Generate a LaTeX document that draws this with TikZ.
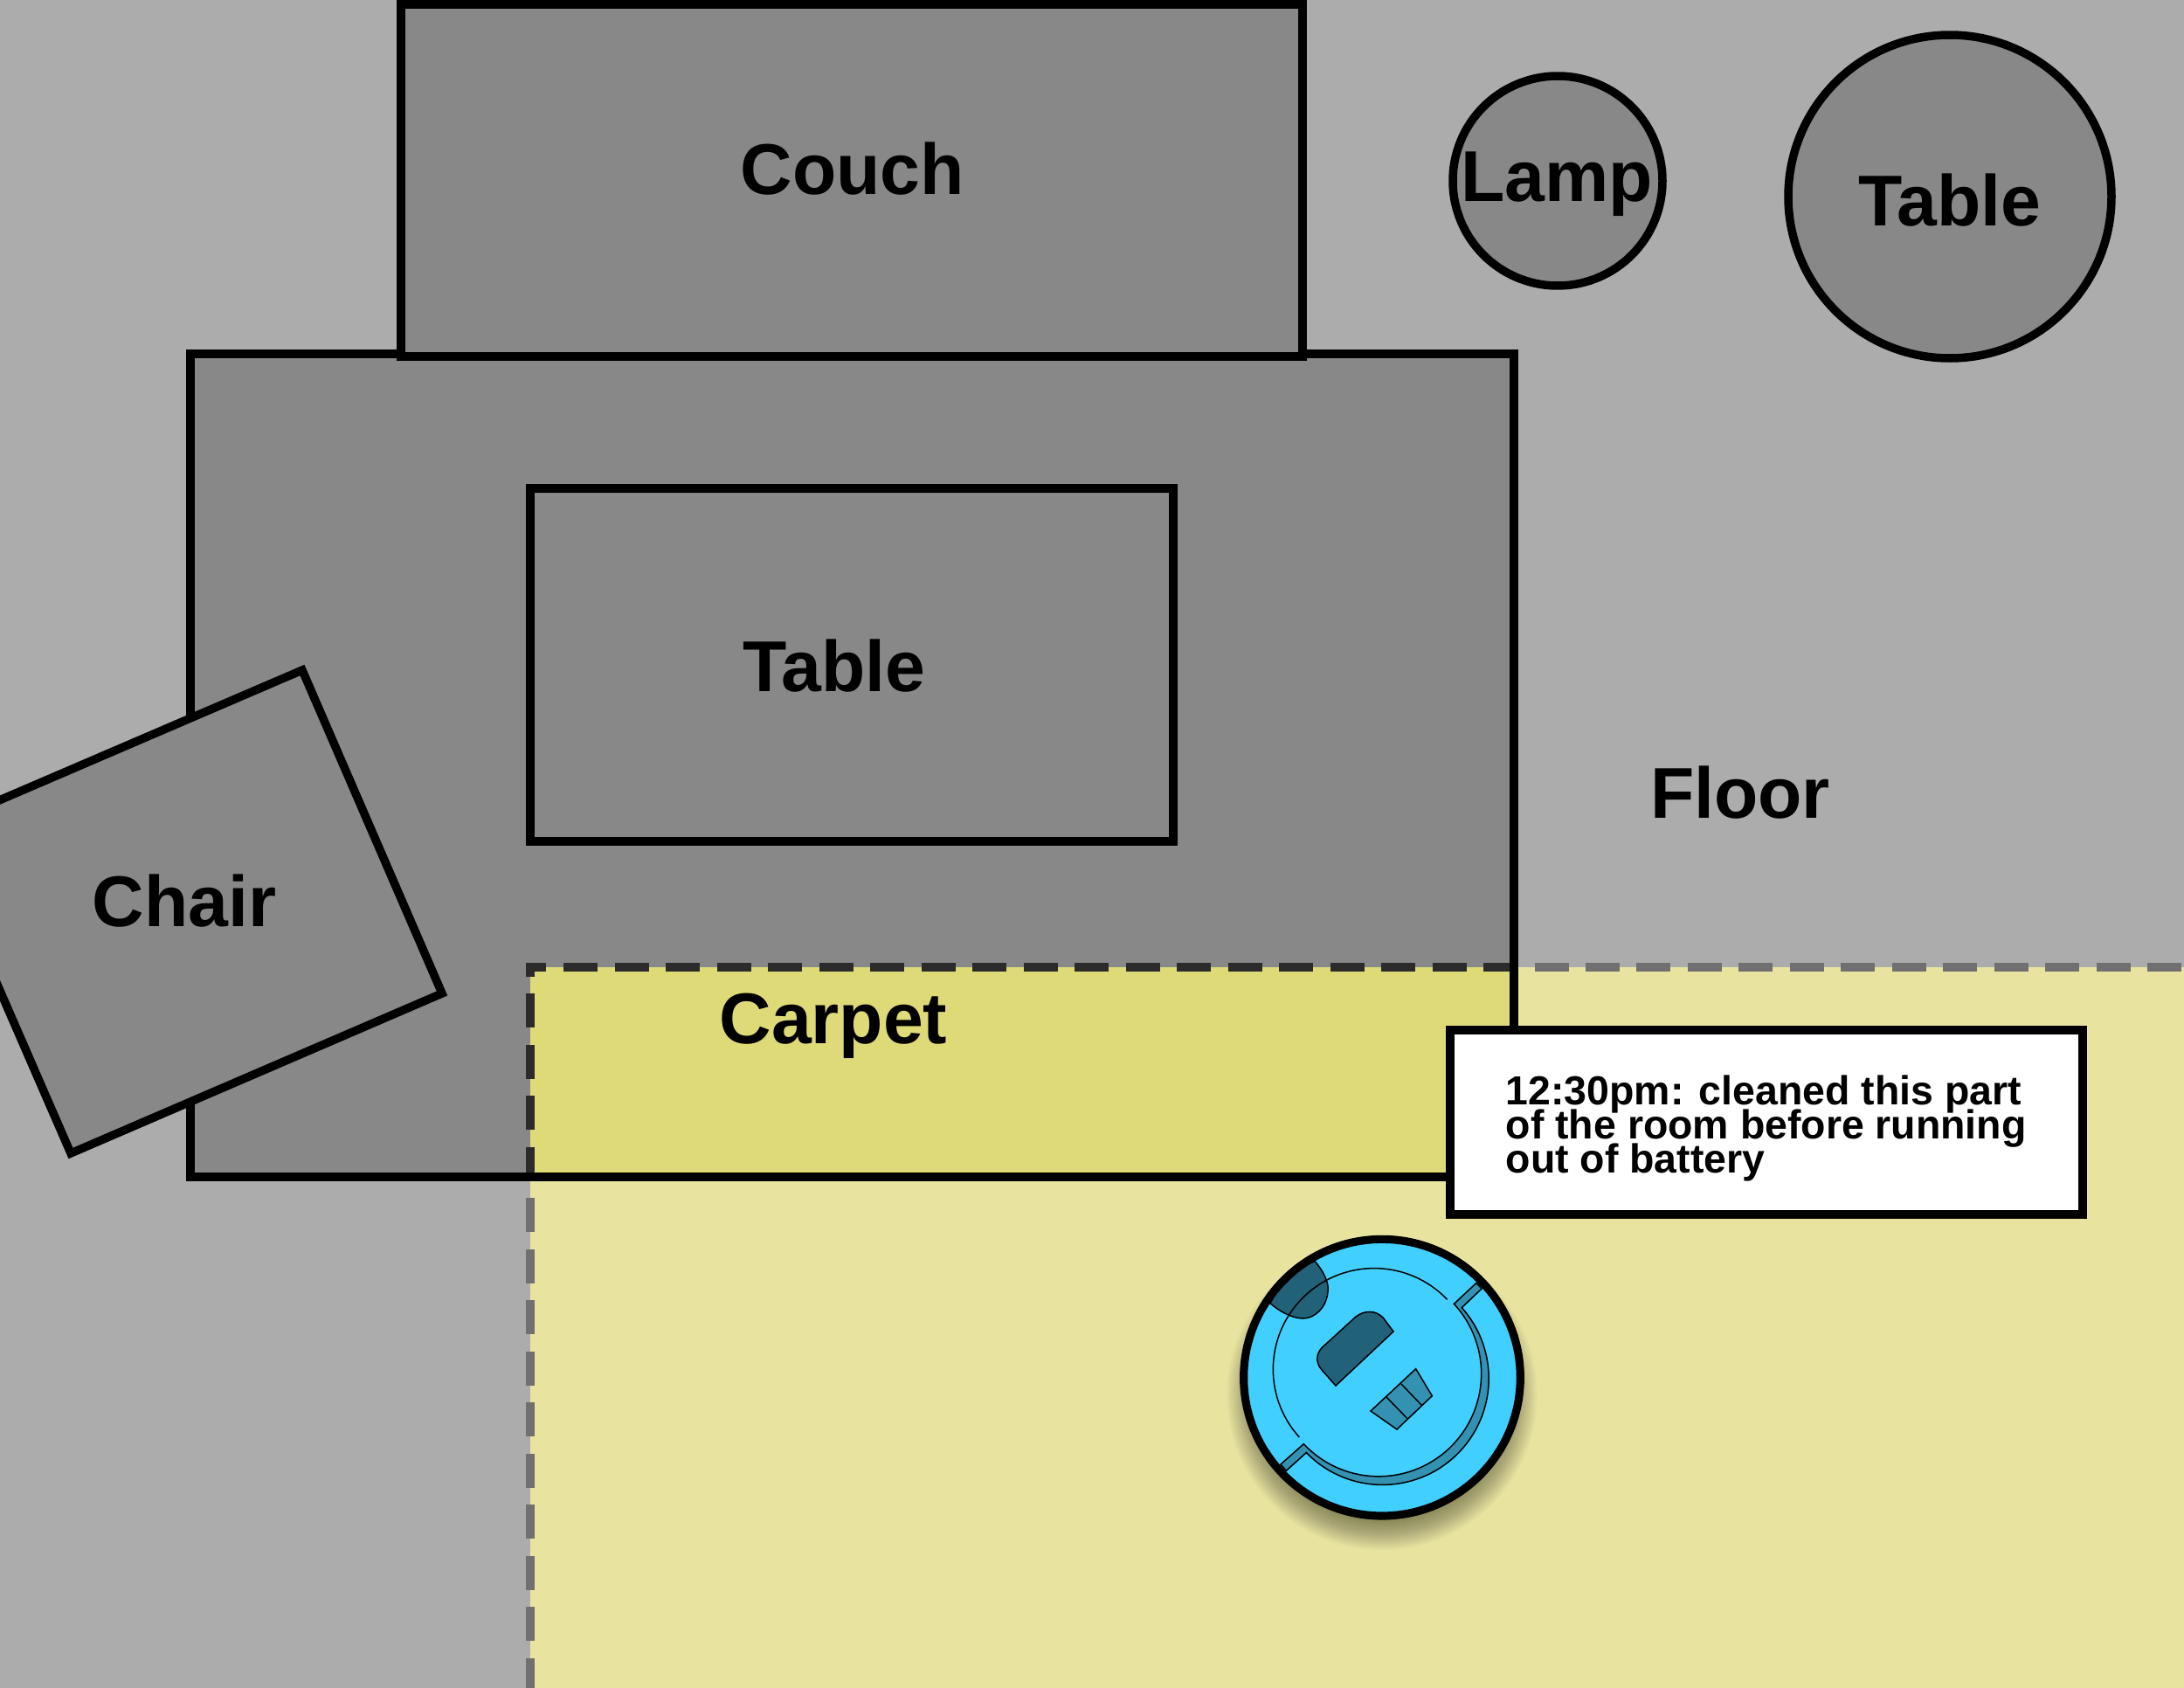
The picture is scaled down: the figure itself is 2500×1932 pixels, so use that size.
\documentclass[tikz,border=0pt]{standalone}
\usepackage{fontspec}
\setmainfont{Liberation Sans}

\definecolor{floorgrey}{HTML}{ACACAC}
\definecolor{rugGrey}{HTML}{888888}
\definecolor{carpetPale}{HTML}{E8E4A0}
\definecolor{carpetDeep}{HTML}{DEDA78}
\definecolor{robotBlue}{HTML}{41CFFF}
\definecolor{robotDark}{HTML}{216278}
\definecolor{robotMid}{HTML}{3391B2}

\newcommand{\notefont}{\fontsize{13.93}{11.7}\selectfont\bfseries\setlength{\lineskiplimit}{-20pt}}

\tikzset{
	every picture/.style={line width=2.85pt},
	furniture/.style={draw=black,fill=rugGrey,line width=2.85pt},
	bigtext/.style={font=\fontsize{24.7}{24.7}\selectfont\bfseries,inner sep=0pt},
	notetext/.style={font=\notefont,inner sep=0pt,align=left},
	carpetedge/.style={line width=3pt,dash pattern=on 11.7pt off 5.85pt},
	thinline/.style={draw=black,line width=0.45pt}
}

\newcommand{\carpetlines}[1]{
	\draw [carpetedge,draw=#1] (645,1107) -- (2500,1107) ;
	\draw [carpetedge,draw=#1] (607,1137) -- (607,1932) ;
	\draw [line width=3pt,draw=#1] (607,1118) -- (607,1107) -- (625,1107) ;
}

\begin{document}
\begin{tikzpicture}[x=0.3pt,y=0.3pt,yscale=-1,xscale=1]
	\clip (0,0) rectangle (2500,1932);

	%Shape: Floor
	\fill [floorgrey] (0,0) rectangle (2500,1932);
	%Shape: Carpet
	\fill [carpetPale] (607,1107) rectangle (2500,1932);
	%Shape: Rug
	\fill [rugGrey] (218,405) rectangle (1733,1346);
	\fill [carpetDeep] (607,1107) rectangle (1733,1346);
	%Dashed carpet border
	\carpetlines{black!56}
	\begin{scope}
		\clip (218,405) rectangle (1733,1346);
		\carpetlines{black!83}
	\end{scope}
	\draw (218,405) rectangle (1733,1347);

	%Shape: Couch
	\draw [furniture] (459,5) rectangle (1491,408);
	%Shape: Table
	\draw [furniture] (607,559) rectangle (1343,963);
	%Shape: Chair
	\draw [furniture] (346,767) -- (506,1137) -- (81,1320) -- (-80,950) -- cycle;
	%Shape: Lamp
	\draw [furniture] (1783,207) circle (120);
	%Shape: Round table
	\draw [furniture] (2232,225) circle (185);

	% Text Node
	\node [bigtext] (lblCouch) at (976,193) {Couch};
	% Text Node
	\node [bigtext] (lblLamp) at (1782,211) {Lamp};
	% Text Node
	\node [bigtext] (lblRound) at (2232,229) {Table};
	% Text Node
	\node [bigtext] (lblTable) at (955,762) {Table};
	% Text Node
	\node [bigtext] (lblFloor) at (1992,907) {Floor};
	% Text Node
	\node [bigtext] (lblChair) at (211,1031) {Chair};
	% Text Node
	\node [bigtext] (lblCarpet) at (954,1174) {Carpet};

	%Shape: Note box
	\draw [draw=black,fill=white] (1660,1179) rectangle (2384,1390);
	% Text Node
	\node [notetext,anchor=west] (lblNote) at (1719,1291) {12:30pm: cleaned this part\\of the room before running\\out of battery};

	%Robot, in units of a third of a pixel
	\begin{scope}[shift={(1380,1380)},scale=0.33333]
		%Shadow
		\foreach \rad in {400,403,...,535} {
			\fill [black,opacity=0.012] (606,650) circle (\rad);
		}
		%Shape: Body
		\fill [robotBlue] (606,590) circle (475);
		%Lobe
		\draw [thinline,fill=robotDark] (375,190) .. controls (405,225) and (425,265) .. (420,295) .. controls (415,350) and (375,387) .. (335,387) .. controls (295,387) and (250,360) .. (222,335) -- (275,235) -- cycle;
		%Thin arc
		\draw [thinline] ([shift={(137.8:347)}]579,561.75) arc [start angle=137.8,end angle=316.3,radius=347];
		%Bumper band
		\draw [thinline,fill=robotMid] (930,265) -- ([shift={(-42.8:352.7)}]594.3,576.8) arc [start angle=-42.8,end angle=136.85,radius=352.7] -- (258,888) -- (277,910) -- ([shift={(135.8:365)}]607.7,593.3) arc [start angle=135.8,end angle=-41.8,radius=365] -- (948,285) -- cycle;
		%Pill
		\draw [thinline,fill=robotDark] (645,432) -- (447,618) -- (400,565) .. controls (378,540) and (378,510) .. (400,487) -- (515,382) .. controls (545,358) and (585,358) .. (610,385) -- cycle;
		%Brush
		\draw [thinline,fill=robotMid] (722,560) -- (778,653) -- (657,768) -- (567,705) -- cycle;
		\draw [thinline] (672,612) -- (742,685);
		\draw [thinline] (622,658) -- (692,730);
		%Ring
		\draw [draw=black,line width=2.75pt] (606,590) circle (475);
	\end{scope}
\end{tikzpicture}
\end{document}
